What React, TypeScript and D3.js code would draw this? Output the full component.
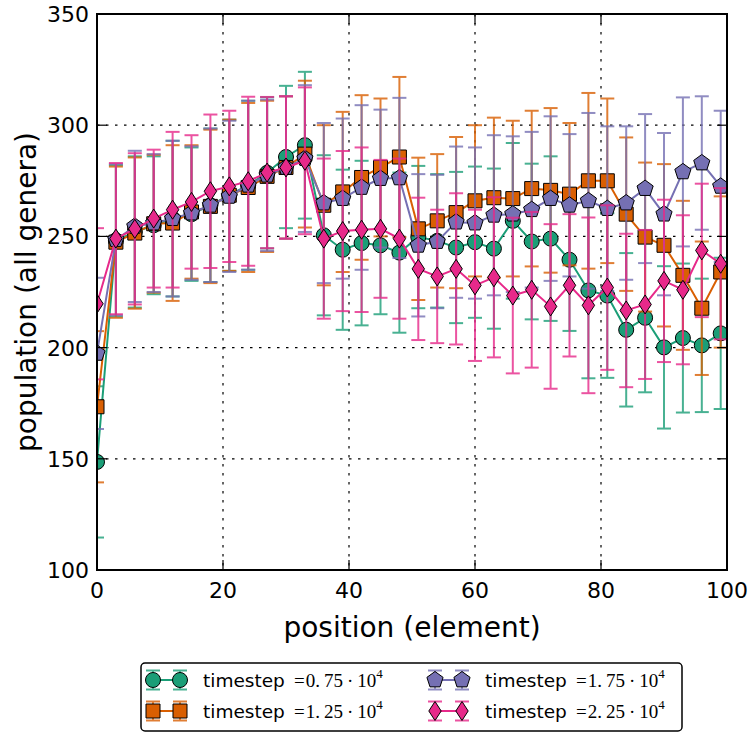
import React, { useEffect, useRef } from "react";
import * as d3 from "d3";

// positions along the element (x axis)
const positions = [
  0, 3, 6, 9, 12, 15, 18, 21, 24, 27, 30, 33, 36, 39, 42, 45, 48, 51, 54, 57,
  60, 63, 66, 69, 72, 75, 78, 81, 84, 87, 90, 93, 96, 99,
];

// half width of the error bars (same for every timestep)
const errHalf = [
  34, 34, 34, 31, 35, 30, 34.5, 34, 38, 34, 32, 33, 36, 36, 37, 31, 36, 32, 30,
  34, 34, 36, 35, 35, 37, 32, 39.5, 37, 34.5, 33.5, 36.5, 33.5, 30, 34,
];

const pop075 = [
  148.6, 248, 252, 255, 258, 260, 264, 268.5, 273, 278.6, 285.7, 291, 250.5,
  244, 247, 246, 242.7, 249.7, 248, 245, 247.4, 244.5, 257, 247.7, 249, 239.5,
  225.7, 223.4, 208, 213.4, 200.1, 204.3, 201, 206.4,
];
const pop125 = [
  173.4, 247.4, 251.5, 255.7, 256, 261, 263.5, 268.5, 272, 277, 281, 287, 264,
  270, 276.5, 281, 285.7, 253.4, 257, 260.7, 266, 267.4, 267, 271.5, 270.7,
  269, 275, 275, 260, 249.7, 246, 232.5, 217.7, 234,
];
const pop175 = [
  197.4, 248.5, 254.5, 256, 258, 260.5, 264, 268, 273, 277.5, 281, 285, 265,
  267, 272, 276, 276.3, 246, 247.7, 256.4, 256, 259.5, 260, 262, 267, 264, 266,
  262.5, 265, 271.5, 260, 279, 283, 272.5,
];
const pop225 = [
  219.7, 249, 253.4, 258, 262, 265.5, 270.3, 272.5, 274.8, 278.7, 281, 284,
  249, 252.4, 253, 253.4, 249, 235.4, 232, 235.4, 228, 231.6, 223.4, 226,
  218.5, 228, 219, 227, 216.7, 219.4, 230, 226, 243.7, 237.7,
];

const seriesValues = [pop075, pop125, pop175, pop225];
const seriesLabels = ["0.75", "1.25", "1.75", "2.25"];
const seriesColors = ["#1b9e77", "#d95f02", "#7570b3", "#e7298a"];
const seriesMarkers = ["circle", "square", "pentagon", "diamond"];

const xTicks = [0, 20, 40, 60, 80, 100];
const yTicks = [100, 150, 200, 250, 300, 350];

const markerPath = (kind: string): string => {
  if (kind === "circle") return d3.symbol(d3.symbolCircle, Math.PI * 7.5 * 7.5)() || "";
  if (kind === "square") return d3.symbol(d3.symbolSquare, 14 * 14)() || "";
  if (kind === "pentagon") {
    const r = 8.5;
    const pts = d3.range(5).map((k) => {
      const a = ((-90 + k * 72) * Math.PI) / 180;
      return [r * Math.cos(a), r * Math.sin(a)];
    });
    return "M" + pts.map((p) => p.join(",")).join("L") + "Z";
  }
  // thin diamond
  return "M0,-9.5L6.2,0L0,9.5L-6.2,0Z";
};

const App: React.FC = () => {
  const svgRef = useRef<SVGSVGElement | null>(null);

  useEffect(() => {
    if (!svgRef.current) return;
    const svg = d3.select(svgRef.current);
    svg.selectAll("*").remove();

    const left = 97;
    const right = 727;
    const top = 14;
    const bottom = 570;

    const x = d3.scaleLinear().domain([0, 100]).range([left, right]);
    const y = d3.scaleLinear().domain([100, 350]).range([bottom, top]);

    svg
      .append("defs")
      .append("clipPath")
      .attr("id", "plot-clip")
      .append("rect")
      .attr("x", left)
      .attr("y", top)
      .attr("width", right - left)
      .attr("height", bottom - top);

    // grid
    const grid = svg.append("g").attr("stroke", "#000").attr("stroke-width", 1.2).attr("stroke-dasharray", "2.5,6.5");
    xTicks.slice(1, -1).forEach((t) => {
      grid.append("line").attr("x1", x(t)).attr("x2", x(t)).attr("y1", top).attr("y2", bottom);
    });
    yTicks.slice(1, -1).forEach((t) => {
      grid.append("line").attr("x1", left).attr("x2", right).attr("y1", y(t)).attr("y2", y(t));
    });

    const plot = svg.append("g").attr("clip-path", "url(#plot-clip)");

    seriesValues.forEach((vals, si) => {
      const color = seriesColors[si];
      const g = plot.append("g");

      // error bars
      const eb = g.append("g").attr("stroke", color).attr("stroke-width", 2).attr("opacity", 0.8);
      positions.forEach((p, i) => {
        const cx = x(p);
        const y0 = y(vals[i] - errHalf[i]);
        const y1 = y(vals[i] + errHalf[i]);
        eb.append("line").attr("x1", cx).attr("x2", cx).attr("y1", y0).attr("y2", y1);
        eb.append("line").attr("x1", cx - 7).attr("x2", cx + 7).attr("y1", y0).attr("y2", y0);
        eb.append("line").attr("x1", cx - 7).attr("x2", cx + 7).attr("y1", y1).attr("y2", y1);
      });

      // line
      const line = d3
        .line<number>()
        .x((_, i) => x(positions[i]))
        .y((d) => y(d));
      g.append("path")
        .attr("d", line(vals) || "")
        .attr("fill", "none")
        .attr("stroke", color)
        .attr("stroke-width", 2);

      // markers
      const mp = markerPath(seriesMarkers[si]);
      g.selectAll("path.marker")
        .data(vals)
        .join("path")
        .attr("class", "marker")
        .attr("d", mp)
        .attr("transform", (d, i) => `translate(${x(positions[i])},${y(d)})`)
        .attr("fill", color)
        .attr("stroke", "#000")
        .attr("stroke-width", 1);
    });

    // ticks (inward, all four sides)
    const ticks = svg.append("g").attr("stroke", "#000").attr("stroke-width", 1.2);
    xTicks.forEach((t) => {
      ticks.append("line").attr("x1", x(t)).attr("x2", x(t)).attr("y1", bottom).attr("y2", bottom - 10);
      ticks.append("line").attr("x1", x(t)).attr("x2", x(t)).attr("y1", top).attr("y2", top + 10);
    });
    yTicks.forEach((t) => {
      ticks.append("line").attr("x1", left).attr("x2", left + 10).attr("y1", y(t)).attr("y2", y(t));
      ticks.append("line").attr("x1", right).attr("x2", right - 10).attr("y1", y(t)).attr("y2", y(t));
    });

    // frame
    svg
      .append("rect")
      .attr("x", left)
      .attr("y", top)
      .attr("width", right - left)
      .attr("height", bottom - top)
      .attr("fill", "none")
      .attr("stroke", "#000")
      .attr("stroke-width", 2);

    // tick labels
    const labels = svg.append("g").attr("font-family", "DejaVu Sans").attr("font-size", 22).attr("fill", "#000");
    xTicks.forEach((t) => {
      labels.append("text").attr("x", x(t)).attr("y", 598).attr("text-anchor", "middle").text(t);
    });
    yTicks.forEach((t) => {
      labels
        .append("text")
        .attr("x", left - 8)
        .attr("y", y(t))
        .attr("dy", "0.36em")
        .attr("text-anchor", "end")
        .text(t);
    });

    // axis labels
    svg
      .append("text")
      .attr("x", (left + right) / 2)
      .attr("y", 637)
      .attr("text-anchor", "middle")
      .attr("font-family", "DejaVu Sans")
      .attr("font-size", 28)
      .text("position (element)");

    svg
      .append("text")
      .attr("transform", `translate(36,${(top + bottom) / 2}) rotate(-90)`)
      .attr("text-anchor", "middle")
      .attr("font-family", "DejaVu Sans")
      .attr("font-size", 28)
      .text("population (all genera)");

    // legend
    const legend = svg.append("g");
    legend
      .append("rect")
      .attr("x", 141)
      .attr("y", 663)
      .attr("width", 541)
      .attr("height", 68)
      .attr("rx", 4)
      .attr("fill", "#fff")
      .attr("stroke", "#000")
      .attr("stroke-width", 1.5);

    const colText = [203, 485];
    const rowY = [680, 711];
    seriesLabels.forEach((lab, si) => {
      const col = Math.floor(si / 2);
      const row = si % 2;
      const tx = colText[col];
      const cy = rowY[row];
      const color = seriesColors[si];
      const mx = [tx - 50, tx - 23];
      const item = legend.append("g");
      const eb = item.append("g").attr("stroke", color).attr("stroke-width", 2).attr("opacity", 0.8);
      mx.forEach((m) => {
        eb.append("line").attr("x1", m).attr("x2", m).attr("y1", cy - 9.5).attr("y2", cy + 9.5);
        eb.append("line").attr("x1", m - 7).attr("x2", m + 7).attr("y1", cy - 9.5).attr("y2", cy - 9.5);
        eb.append("line").attr("x1", m - 7).attr("x2", m + 7).attr("y1", cy + 9.5).attr("y2", cy + 9.5);
      });
      item
        .append("line")
        .attr("x1", mx[0])
        .attr("x2", mx[1])
        .attr("y1", cy)
        .attr("y2", cy)
        .attr("stroke", color)
        .attr("stroke-width", 2);
      const mp = markerPath(seriesMarkers[si]);
      mx.forEach((m) => {
        item
          .append("path")
          .attr("d", mp)
          .attr("transform", `translate(${m},${cy})`)
          .attr("fill", color)
          .attr("stroke", "#000")
          .attr("stroke-width", 1);
      });
      item
        .append("text")
        .attr("x", tx)
        .attr("y", cy + 6.5)
        .attr("font-family", "DejaVu Sans")
        .attr("font-size", 18.5)
        .text("timestep");
      const [a, b] = lab.split(".");
      const math = item
        .append("text")
        .attr("x", tx + 91)
        .attr("y", cy + 6.5)
        .attr("font-family", "Liberation Serif")
        .attr("font-size", 19);
      math.append("tspan").text("=");
      math.append("tspan").attr("dx", 1).text(a + ".");
      math.append("tspan").attr("dx", 4).text(b);
      math.append("tspan").attr("dx", 4).text("·");
      math.append("tspan").attr("dx", 4).text("10");
      math.append("tspan").attr("dy", -9).attr("font-size", 13).text("4");
    });
  }, []);

  return (
    <svg
      ref={svgRef}
      width={750}
      height={735}
      style={{ position: "absolute", left: 0, top: 0, background: "#fff" }}
    />
  );
};

export default App;
